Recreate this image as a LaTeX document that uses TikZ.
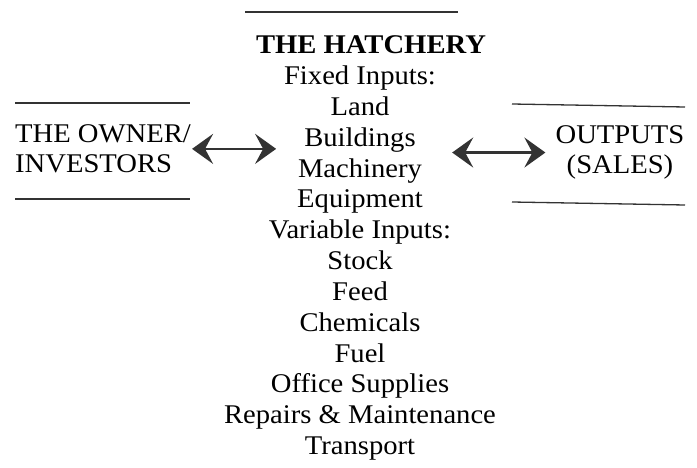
\documentclass[tikz,border=0pt]{standalone}
\usepackage{fontspec}
\setmainfont[FakeStretch=1.06]{Liberation Serif}
\usetikzlibrary{arrows.meta,positioning}

\begin{document}
\begin{tikzpicture}[x=1pt, y=-1pt, >={Stealth[length=21pt, width=30pt, inset=8pt]},
  every node/.style={inner sep=0pt, font=\fontsize{27}{30.8}\selectfont},
  entry/.style={anchor=base},
  rule/.style={line width=1.3pt, black!80},
  link/.style={<->, line width=2.5pt, black!80}]
\useasboundingbox (0,0) rectangle (697,468);

% the hatchery column
\draw[rule] (245,12) -- (458,12);
\node[entry, font=\bfseries\fontsize{27}{30.8}\selectfont] (hatchery) at (371,54) {THE HATCHERY};
\foreach \name/\txt [count=\i] in {fixed/Fixed Inputs:, land/Land, buildings/Buildings,
    machinery/Machinery, equipment/Equipment, variable/Variable Inputs:, stock/Stock,
    feed/Feed, chemicals/Chemicals, fuel/Fuel, office/Office Supplies,
    repairs/Repairs \& Maintenance, transport/Transport}
  \node[entry] (\name) at (360,54+30.8*\i) {\txt};

% owner and outputs (base = last line)
\node[anchor=base west, align=left] (owner) at (15,173) {THE OWNER/\\INVESTORS};
\draw[rule] (15,103) -- (190,103);
\draw[rule] (15,199) -- (190,199);
\node[anchor=base, align=center] (outputs) at (620,174) {OUTPUTS\\(SALES)};
\draw[rule] (512,104) -- (685,107);
\draw[rule] (512,202) -- (685,205);

\draw[link] ([xshift=1pt]owner.east) -- ([xshift=-28pt]owner.east -| buildings.west);
\draw[link] ([xshift=30pt]outputs.west -| machinery.east) -- ([xshift=-10pt]outputs.west);
\end{tikzpicture}
\end{document}
